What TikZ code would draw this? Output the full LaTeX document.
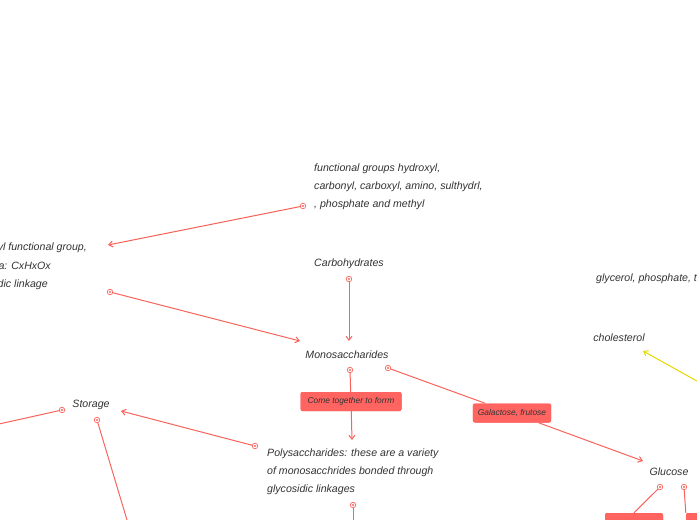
\documentclass[tikz,border=0pt]{standalone}
\usepackage{fontspec}
\setmainfont{Liberation Sans}
\usetikzlibrary{arrows.meta}
\definecolor{lnred}{HTML}{F8645C}
\definecolor{boxred}{HTML}{FF6461}
\definecolor{txtc}{HTML}{333333}
\definecolor{ylw}{HTML}{E6D800}
\begin{document}
\begin{tikzpicture}[x=1pt,y=-1pt,
  txt/.style={font=\itshape\fontsize{10.6}{18}\selectfont, text=txtc, inner sep=0pt, align=left},
  lbl/.style={fill=boxred, rounded corners=2pt, font=\itshape\fontsize{8.4}{9}\selectfont, text=txtc, minimum height=19pt, inner xsep=5pt, inner ysep=0pt},
  con/.style={draw=lnred, line width=1pt},
  arr/.style={con, -{Straight Barb[length=4pt,width=6pt]}},
  dotn/.style={circle, draw=lnred, fill=white, line width=0.7pt, minimum size=5.5pt, inner sep=0pt,
    path picture={\fill[lnred] (path picture bounding box.center) circle (1.1pt);}}]
\useasboundingbox (0,0) rectangle (697,520);
\fill[white] (0,0) rectangle (697,520);
\clip (0,0) rectangle (697,520);

% text nodes
\node[txt, anchor=north west] (fg) at (314,163.5) {functional groups hydroxyl,\\carbonyl, carboxyl, amino, sulthydrl,\\, phosphate and methyl};
\node[txt, anchor=base east] (l1) at (87,250) {carbonyl functional group,};
\node[txt, anchor=base east] (l2) at (51,269) {formula: CxHxOx};
\node[txt, anchor=base east] (l3) at (48,287) {glycosidic linkage};
\node[txt] (carb) at (349,263.5) {Carbohydrates};
\node[txt] (mono) at (347,354.5) {Monosaccharides};
\node[txt] (stor) at (91,404.5) {Storage};
\node[txt] (gluc) at (669,472) {Glucose};
\node[txt] (chol) at (619,338) {cholesterol};
\node[txt, anchor=west] (glyc) at (596,279) {glycerol, phosphate, t};
\node[txt, anchor=north west] (poly) at (267,448.5) {Polysaccharides: these are a variety\\of monosacchrides bonded through\\glycosidic linkages};

% dot coordinates
\coordinate (d1) at (303,206);
\coordinate (d2) at (110,292);
\coordinate (d3) at (349,279);
\coordinate (d4) at (350,370);
\coordinate (d5) at (388,368);
\coordinate (d6) at (255,446);
\coordinate (d7) at (353,505);
\coordinate (d8) at (62,410);
\coordinate (d9) at (97,420);
\coordinate (d10) at (660,487);
\coordinate (d11) at (684,487);
% arrow ends
\coordinate (a1) at (108,245);
\coordinate (a2) at (300,341);
\coordinate (a3) at (349,341);
\coordinate (a4) at (352,440);
\coordinate (a5) at (643,461);
\coordinate (a6) at (121,411);
\coordinate (a7) at (643,351);
\coordinate (y0) at (740,405);
\coordinate (e1) at (353,530);
\coordinate (e2) at (130,530);
\coordinate (e3) at (-10,426);

% boxes (placed first so connectors can reference them)
\node[lbl, minimum width=101pt] (come) at (351,401.5) {Come together to forrm};
\node[lbl, minimum width=77pt] (gal) at (512,413) {Galactose, frutose};
\node[lbl, minimum width=58pt, minimum height=20pt] (b1) at (634,523) {};
\node[lbl, minimum width=40pt, minimum height=20pt] (b2) at (706,523) {};

% connectors
\draw[arr] (d1) -- (a1);
\draw[arr] (d2) -- (a2);
\draw[arr] (d3) -- (a3);
\draw[con] (d4) -- (come);
\draw[arr] (come) -- (a4);
\draw[con] (d5) -- (gal);
\draw[arr] (gal) -- (a5);
\draw[arr] (d6) -- (a6);
\draw[con] (d7) -- (e1);
\draw[con] (d8) -- (e3);
\draw[con] (d9) -- (e2);
\draw[con] (d10) -- (b1.north);
\draw[con] (d11) -- (b2.north west);
\draw[draw=ylw, line width=1pt, -{Straight Barb[length=4pt,width=6pt]}] (y0) -- (a7);

% redraw boxes on top
\node[lbl, minimum width=101pt] at (come) {Come together to forrm};
\node[lbl, minimum width=77pt] at (gal) {Galactose, frutose};
\node[lbl, minimum width=58pt, minimum height=20pt] at (b1) {};
\node[lbl, minimum width=40pt, minimum height=20pt] at (b2) {};

% dots
\foreach \d in {d1,d2,d3,d4,d5,d6,d7,d8,d9,d10,d11}
  \node[dotn] at (\d) {};
\end{tikzpicture}
\end{document}
